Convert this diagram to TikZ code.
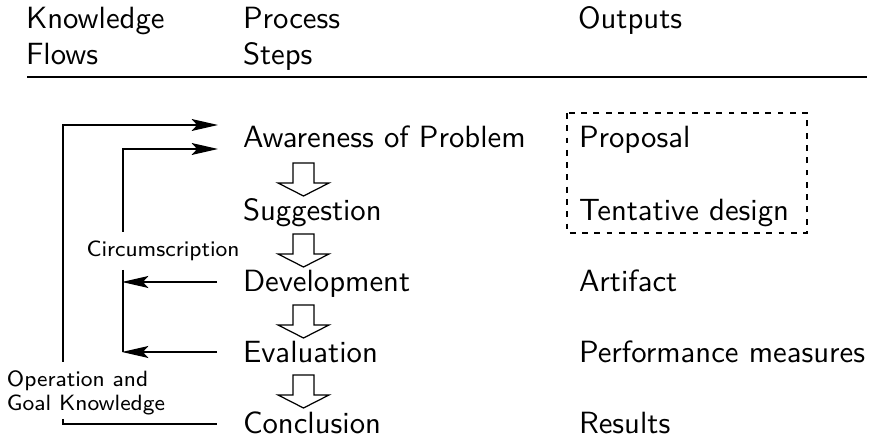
\documentclass[tikz,border=0pt]{standalone}
\usepackage{fontspec}
\usetikzlibrary{arrows.meta}
\begin{document}
\begin{tikzpicture}[x=0.3257pt,y=-0.3257pt,
  every node/.style={inner sep=0pt, outer sep=0pt, anchor=base west, font=\sffamily},
  lbl/.style={font=\sffamily\fontsize{7.2}{8.6}\selectfont},
  flow/.style={-{Stealth[length=8.6pt,width=3.9pt,inset=1.8pt]}},
  hollow/.style={draw, fill=white, line join=miter},
  outbox/.style={draw, dash pattern=on 1.9pt off 2.1pt}]
\useasboundingbox (0,0) rectangle (879,440);
% header
\node (hk1) at (26,29) {Knowledge};
\node (hk2) at (26,65) {Flows};
\node (hp1) at (243,29) {Process};
\node (hp2) at (243,65) {Steps};
\node (ho)  at (578,29) {Outputs};
\coordinate (ruleL) at (27,77);
\coordinate (ruleR) at (867,77);
\draw (ruleL) -- (ruleR);
% process steps
\node (s1) at (243,148) {Awareness of Problem};
\node (s2) at (243,221) {Suggestion};
\node (s3) at (243,292) {Development};
\node (s4) at (243,363) {Evaluation};
\node (s5) at (243,433) {Conclusion};
% outputs
\node (o1) at (579,148) {Proposal};
\node (o2) at (579,221) {Tentative design};
\node (o3) at (579,292) {Artifact};
\node (o4) at (579,363) {Performance measures};
\node (o5) at (579,433) {Results};
\coordinate (boxA) at (567,113);
\coordinate (boxB) at (807,233);
\draw[outbox] (boxA) rectangle (boxB);
% hollow arrows
\foreach \b in {221,292,363,433}{
  \draw[hollow] (293,{\b-58}) -- (293,{\b-38}) -- (278,{\b-38}) -- (303.5,{\b-25})
     -- (329,{\b-38}) -- (314,{\b-38}) -- (314,{\b-58}) -- cycle;
}
% knowledge flows
\coordinate (outBot) at (63,362);
\coordinate (outTop) at (63,125);
\coordinate (outEnd) at (218,125);
\draw[flow] (outBot) -- (outTop) -- (outEnd);
\coordinate (inBot) at (123,232);
\coordinate (inTop) at (123,149);
\coordinate (inEnd) at (218,149);
\draw[flow] (inBot) -- (inTop) -- (inEnd);
\coordinate (devStart) at (217,282);
\coordinate (devEnd) at (122,282);
\draw[flow] (devStart) -- (devEnd);
\coordinate (cTop) at (123,270);
\coordinate (cBot) at (123,352);
\draw (cTop) -- (cBot);
\coordinate (evStart) at (217,352);
\coordinate (evEnd) at (122,352);
\draw[flow] (evStart) -- (evEnd);
\coordinate (ogTop) at (63,419);
\coordinate (ogCorner) at (63,424);
\coordinate (conStart) at (217,424);
\draw (ogTop) -- (ogCorner) -- (conStart);
% labels
\node[lbl] (circ) at (86.5,257) {Circumscription};
\node[lbl] (og1) at (7,387) {Operation and};
\node[lbl] (og2) at (7,411) {Goal Knowledge};
\end{tikzpicture}
\end{document}
